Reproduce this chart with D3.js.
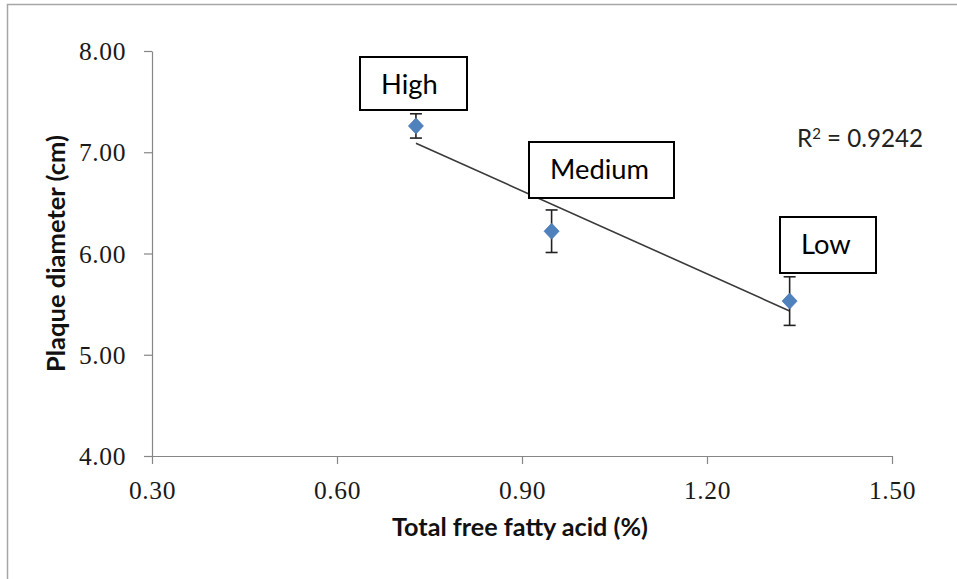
<!DOCTYPE html>
<html>
<head>
<meta charset="utf-8">
<script src="https://cdn.jsdelivr.net/npm/d3@7"></script>
<style>
  html, body { margin: 0; padding: 0; background: #fff; }
  svg { display: block; }
</style>
</head>
<body>
<svg id="chart" width="957" height="579"></svg>
<script>
// Plaque diameter against total free fatty acid content, three lipase groups
const groups = ["High", "Medium", "Low"];
const ffaPercent = [0.728, 0.948, 1.334];
const plaqueCm = [7.26, 6.22, 5.53];
const plaqueErr = [0.12, 0.21, 0.24];
const xTickValues = [0.30, 0.60, 0.90, 1.20, 1.50];
const yTickValues = [4.00, 5.00, 6.00, 7.00, 8.00];
const rSquaredText = "0.9242";

// Callout boxes beside each group (pixel layout)
const calloutLayout = {
  High:   { left: 360, top: 57,  width: 107, height: 53 },
  Medium: { left: 529, top: 142, width: 145, height: 56 },
  Low:    { left: 780, top: 217, width: 96,  height: 56 }
};

const W = 957, H = 579;
const plot = { left: 152, right: 892, top: 51, bottom: 456 };
const sansFont = "Lato, 'Open Sans', 'DejaVu Sans', sans-serif";
const serifFont = "'Liberation Serif', 'DejaVu Serif', serif";

const svg = d3.select("#chart");

const x = d3.scaleLinear().domain([0.30, 1.50]).range([plot.left, plot.right]);
const y = d3.scaleLinear().domain([4.00, 8.00]).range([plot.bottom, plot.top]);

// scale a text's font-size so it spans the given width
function fitWidth(sel, width) {
  const node = sel.node();
  const size = parseFloat(sel.attr("font-size"));
  const len = node.getComputedTextLength();
  if (len > 0) sel.attr("font-size", (size * width / len).toFixed(2));
  return sel;
}

// page frame (top and left edges)
svg.append("path")
  .attr("d", `M7.5,${H} L7.5,4.5 L${W},4.5`)
  .attr("fill", "none")
  .attr("stroke", "#a6a6a6")
  .attr("stroke-width", 1.5);

// axes
const axisColor = "#868686";
const yAxis = svg.append("g")
  .attr("transform", `translate(${plot.left},0)`)
  .call(d3.axisLeft(y).tickValues(yTickValues).tickFormat(d3.format(".2f"))
    .tickSize(8).tickSizeOuter(0).tickPadding(18));
const xAxis = svg.append("g")
  .attr("transform", `translate(0,${plot.bottom})`)
  .call(d3.axisBottom(x).tickValues(xTickValues).tickFormat(d3.format(".2f"))
    .tickSize(8).tickSizeOuter(0).tickPadding(17));

[xAxis, yAxis].forEach(g => {
  g.select(".domain").attr("stroke", axisColor).attr("stroke-width", 1.2);
  g.selectAll(".tick line").attr("stroke", axisColor).attr("stroke-width", 1.2);
  g.selectAll(".tick text")
    .attr("fill", "#1a1a1a")
    .attr("font-family", serifFont)
    .attr("font-size", 25.5)
    .attr("letter-spacing", "0.6px");
});
yAxis.selectAll(".tick text").attr("dy", "0.34em");

// axis titles
const xTitle = svg.append("text")
  .attr("x", (plot.left + plot.right) / 2 - 2)
  .attr("y", 536)
  .attr("text-anchor", "middle")
  .attr("font-family", sansFont)
  .attr("font-weight", "bold")
  .attr("font-size", 20)
  .attr("fill", "#111")
  .text("Total free fatty acid (%)");
fitWidth(xTitle, 256);

const yTitle = svg.append("text")
  .attr("transform", `translate(65,${(plot.top + plot.bottom) / 2}) rotate(-90)`)
  .attr("text-anchor", "middle")
  .attr("font-family", sansFont)
  .attr("font-weight", "bold")
  .attr("font-size", 20)
  .attr("fill", "#111")
  .text("Plaque diameter (cm)");
fitWidth(yTitle, 237);

// least-squares trendline over the three groups
const n = ffaPercent.length;
const mx = d3.mean(ffaPercent), my = d3.mean(plaqueCm);
let sxy = 0, sxx = 0;
for (let i = 0; i < n; i++) {
  sxy += (ffaPercent[i] - mx) * (plaqueCm[i] - my);
  sxx += (ffaPercent[i] - mx) ** 2;
}
const slope = sxy / sxx, intercept = my - slope * mx;
const xMin = d3.min(ffaPercent), xMax = d3.max(ffaPercent);
svg.append("line")
  .attr("x1", x(xMin)).attr("y1", y(intercept + slope * xMin))
  .attr("x2", x(xMax)).attr("y2", y(intercept + slope * xMax))
  .attr("stroke", "#3a3a3a")
  .attr("stroke-width", 1.6);

// error bars
const pts = groups.map((g, i) => ({ group: g, fx: ffaPercent[i], py: plaqueCm[i], err: plaqueErr[i] }));
const errG = svg.append("g").attr("stroke", "#222").attr("stroke-width", 1.6);
pts.forEach(d => {
  const cx = x(d.fx);
  errG.append("line").attr("x1", cx).attr("x2", cx)
    .attr("y1", y(d.py + d.err)).attr("y2", y(d.py - d.err));
  [d.py + d.err, d.py - d.err].forEach(v => {
    errG.append("line").attr("x1", cx - 6).attr("x2", cx + 6)
      .attr("y1", y(v)).attr("y2", y(v));
  });
});

// diamond markers
svg.append("g").selectAll("path")
  .data(pts)
  .join("path")
  .attr("transform", d => `translate(${x(d.fx)},${y(d.py)})`)
  .attr("d", "M0,-8 L7.5,0 L0,8 L-7.5,0 Z")
  .attr("fill", "#4f81bd")
  .attr("stroke", "#4a7ab5")
  .attr("stroke-width", 0.8);

// callout boxes
const callouts = svg.append("g");
let calloutSize = null;
groups.forEach(g => {
  const b = calloutLayout[g];
  callouts.append("rect")
    .attr("x", b.left).attr("y", b.top)
    .attr("width", b.width).attr("height", b.height)
    .attr("fill", "#fff")
    .attr("stroke", "#000")
    .attr("stroke-width", 2);
  const t = callouts.append("text")
    .attr("x", b.left + 21)
    .attr("y", b.top + 37)
    .attr("font-family", sansFont)
    .attr("font-size", 24)
    .attr("fill", "#000")
    .text(g);
  if (g === "Medium") { fitWidth(t, 99); calloutSize = t.attr("font-size"); }
});
callouts.selectAll("text").attr("font-size", calloutSize);

// R-squared of the fit
const r2 = svg.append("text")
  .attr("x", 797)
  .attr("y", 147)
  .attr("font-family", sansFont)
  .attr("font-size", 20)
  .attr("fill", "#222");
r2.append("tspan").text("R");
r2.append("tspan").attr("font-size", "0.62em").attr("dy", "-0.55em").text("2");
r2.append("tspan").attr("dy", "0.34em").text(" = " + rSquaredText);
fitWidth(r2, 126);
</script>
</body>
</html>
